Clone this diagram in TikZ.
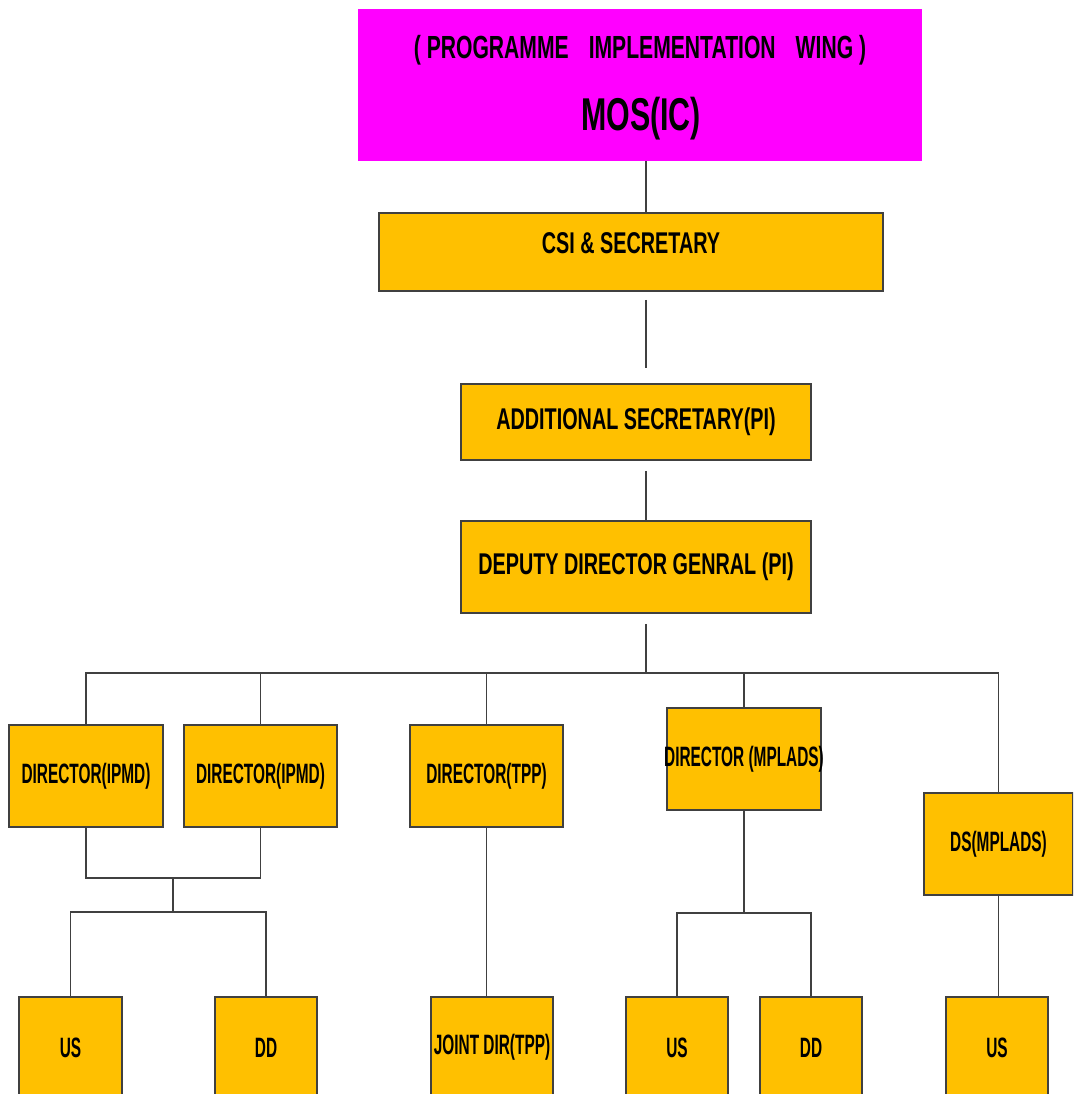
\documentclass[tikz,border=0pt]{standalone}
\usepackage{fontspec}
\newfontfamily\headfont[FakeStretch=0.66]{Liberation Sans}
\newfontfamily\postfont[FakeStretch=0.55]{Liberation Sans}
\definecolor{postfill}{HTML}{FFC000}
\definecolor{wingfill}{HTML}{FF00FF}
\definecolor{linkgray}{HTML}{404040}
\tikzset{
  post/.style={draw=linkgray, fill=postfill, line width=1.5pt, inner sep=0pt},
  link/.style={draw=linkgray, line width=1.5pt},
  headtext/.style={font=\headfont\bfseries\fontsize{30}{36}\selectfont},
  posttext/.style={font=\postfont\bfseries\fontsize{28}{34}\selectfont},
}
% name, left, top, right, bottom, text style, text
\newcommand{\drawpost}[7]{
  \node[post, #6, minimum width=#4-#2, minimum height=#5-#3]
    (#1) at ({(#2+#4)/2}, {(#3+#5)/2}) {\makebox[0pt]{#7}};
}

\begin{document}
\begin{tikzpicture}[x=1pt, y=-1pt]
  \useasboundingbox (0,0) rectangle (1073,1094);
  \clip (0,0) rectangle (1073,1094);

  \node[fill=wingfill, minimum width=564, minimum height=152, inner sep=0pt]
    (mos) at (640,85) {};
  \node[font=\headfont\bfseries\fontsize{32}{38}\selectfont, anchor=base, inner sep=0pt]
    (wing) at (640,59)
    {( PROGRAMME\hspace{20pt}IMPLEMENTATION\hspace{20pt}WING )};
  \node[font=\headfont\bfseries\fontsize{46}{50}\selectfont, anchor=base, inner sep=0pt]
    (mosic) at (641,131) {MOS(IC)};

  \drawpost{csi}{379}{213}{883}{291}{headtext, text depth=18pt}{CSI \& SECRETARY}
  \drawpost{addl}{461}{384}{811}{460}{headtext}{ADDITIONAL SECRETARY(PI)}
  \drawpost{ddg}{461}{521}{811}{613}{headtext}{DEPUTY DIRECTOR GENRAL (PI)}

  \drawpost{ipmdA}{9}{725}{163}{827}{posttext}{DIRECTOR(IPMD)}
  \drawpost{ipmdB}{184}{725}{337}{827}{posttext}{DIRECTOR(IPMD)}
  \drawpost{tpp}{410}{725}{563}{827}{posttext}{DIRECTOR(TPP)}
  \drawpost{mplads}{667}{708}{821}{810}{posttext}{DIRECTOR (MPLADS)}
  \drawpost{ds}{924}{793}{1073}{895}{posttext}{DS(MPLADS)}

  \drawpost{usA}{19}{997}{122}{1098}{posttext}{US}
  \drawpost{ddA}{215}{997}{317}{1098}{posttext}{DD}
  \drawpost{joint}{431}{997}{553}{1098}{posttext}{JOINT DIR(TPP)}
  \drawpost{usB}{626}{997}{728}{1098}{posttext}{US}
  \drawpost{ddB}{760}{997}{862}{1098}{posttext}{DD}
  \drawpost{usC}{946}{997}{1048}{1098}{posttext}{US}

  % main line down the middle
  \coordinate (spine) at (646,0);
  \coordinate (bus) at (646,673);
  \draw[link] (mos.south -| spine) -- (csi.north -| spine);
  \draw[link, shorten <=8pt, shorten >=15pt] (csi.south -| spine) -- (addl.north -| spine);
  \draw[link, shorten <=10pt] (addl.south -| spine) -- (ddg.north -| spine);
  \draw[link, shorten <=10pt] (ddg.south -| spine) -- (bus);

  % directors
  \draw[link] (ipmdA.north) |- (bus) -| (ds.north);
  \foreach \n in {ipmdB, tpp, mplads}
    \draw[link] (\n.north) -- (\n.north |- bus);

  % lower level
  \coordinate (ipmdjoin) at (173,878);
  \coordinate (ipmdsplit) at (173,912);
  \draw[link] (ipmdA.south) |- (ipmdjoin) -| (ipmdB.south);
  \draw[link] (ipmdjoin) -- (ipmdsplit);
  \draw[link] (usA.north) |- (ipmdsplit) -| (ddA.north);
  \draw[link] (tpp.south) -- (tpp.south |- joint.north);
  \draw[link] (mplads.south) -- ++(0,102) coordinate (mpsplit);
  \draw[link] (usB.north) |- (mpsplit) -| (ddB.north);
  \draw[link] (ds.south) -- (ds.south |- usC.north);
\end{tikzpicture}
\end{document}
